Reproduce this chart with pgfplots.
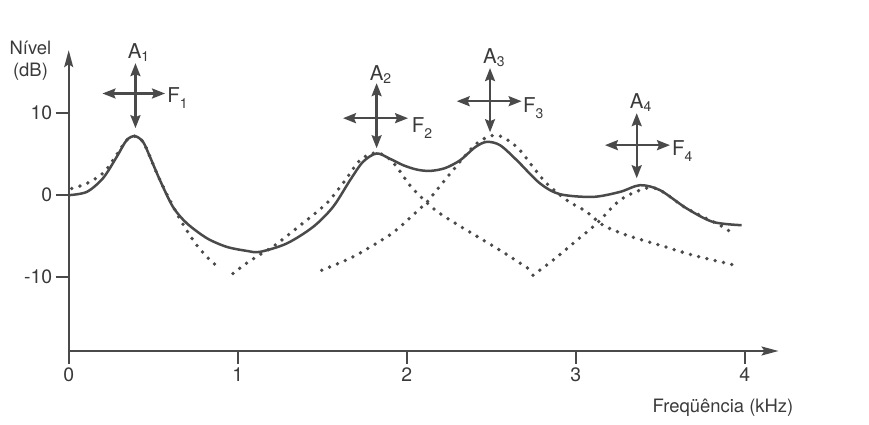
\documentclass[border=0pt]{standalone}
\usepackage{pgfplots}
\pgfplotsset{compat=1.18}
\usepackage{pgfplotstable}
\usepackage{fontspec}
\setmainfont{TeX Gyre Heros}
\usetikzlibrary{arrows.meta}
\definecolor{ink}{HTML}{4A4A4A}
\definecolor{txt}{HTML}{3A3A3A}

\pgfplotstableread{
f dB
0.000 0.00
0.107 0.40
0.203 2.07
0.284 4.67
0.343 6.71
0.392 7.20
0.440 6.50
0.481 4.67
0.540 1.83
0.617 -1.43
0.698 -3.41
0.817 -5.24
0.935 -6.30
1.053 -6.79
1.132 -6.91
1.290 -5.89
1.446 -3.87
1.564 -1.43
1.665 1.83
1.741 4.06
1.822 5.09
1.900 4.45
1.980 3.65
2.060 3.12
2.138 2.96
2.227 3.30
2.317 4.27
2.405 5.85
2.473 6.50
2.552 6.10
2.651 4.27
2.789 1.43
2.907 0.12
3.102 -0.21
3.262 0.40
3.381 1.22
3.499 0.61
3.657 -1.62
3.812 -3.26
3.982 -3.66
}\solid

\pgfplotstableread{
f dB
0.018 0.82
0.107 1.43
0.203 2.68
0.262 4.27
0.343 6.71
0.392 7.20
0.440 6.50
0.481 4.67
0.540 1.83
0.639 -2.20
0.736 -5.49
0.817 -7.52
0.883 -8.74
}\fone

\pgfplotstableread{
f dB
0.972 -9.55
1.053 -8.29
1.142 -7.11
1.221 -6.10
1.386 -3.41
1.527 -0.98
1.623 1.46
1.724 4.27
1.812 5.16
1.880 4.70
1.941 3.45
2.019 1.20
2.118 -0.90
2.197 -2.23
2.355 -4.27
2.552 -6.71
2.747 -9.30
}\ftwo

\pgfplotstableread{
f dB
1.497 -9.15
1.682 -7.52
1.882 -5.09
1.960 -3.87
2.079 -1.62
2.118 -0.90
2.274 3.05
2.414 6.30
2.533 7.32
2.651 5.89
2.747 3.45
2.828 1.43
2.947 -0.61
3.065 -2.04
3.162 -3.66
3.302 -4.88
3.499 -6.10
3.694 -7.32
3.943 -8.54
}\fthree

\pgfplotstableread{
f dB
2.747 -9.76
2.866 -7.93
2.984 -5.89
3.124 -3.45
3.262 -0.61
3.410 0.82
3.499 0.61
3.657 -1.62
3.854 -3.66
3.943 -4.88
}\ffour

\newcommand{\Asub}[1]{A\rlap{\raisebox{-3bp}{\fontsize{14}{14}\selectfont #1}}}
\newcommand{\Fsub}[1]{F\raisebox{-6bp}{\fontsize{14}{14}\selectfont #1}}

\begin{document}
\begin{tikzpicture}
\useasboundingbox (0,0) rectangle (869bp,425bp);
\begin{axis}[
  at={(68.7bp,74bp)}, anchor=south west,
  scale only axis, width=709.8bp, height=300.8bp,
  xmin=0, xmax=4.2, ymin=-19, ymax=17.68,
  axis lines=left,
  axis line style={ink, line width=1.9bp, -{Stealth[length=17bp,width=9bp,inset=3bp]}},
  xtick={0,1,2,3,4}, xticklabels={0,1,2,3,4},
  ytick={-10,0,10}, yticklabels={-10,0,10},
  tick align=outside, major tick length=13bp,
  tick style={ink, line width=1.9bp},
  tick label style={font=\fontsize{19.5}{19.5}\selectfont, text=txt},
  clip=false,
]
\addplot[ink, line width=2.5bp, smooth, tension=0.5] table[x=f,y=dB] {\solid};
\tikzset{dots/.style={ink, line width=3.8bp, line cap=round, dash pattern=on 0pt off 8.5bp, smooth, tension=0.5}}
\addplot[dots] table[x=f,y=dB] {\fone};
\addplot[dots] table[x=f,y=dB] {\ftwo};
\addplot[dots] table[x=f,y=dB] {\fthree};
\addplot[dots] table[x=f,y=dB] {\ffour};

\tikzset{dbl/.style={ink, line width=2.3bp, {Stealth[length=13bp,width=10bp,inset=2bp]}-{Stealth[length=13bp,width=10bp,inset=2bp]}}}
% formant 1
\draw[dbl] (axis cs:0.395,16.1) -- (axis cs:0.395,8.17);
\draw[dbl] (axis cs:0.200,12.4) -- (axis cs:0.570,12.4);
% formant 2
\draw[dbl] (axis cs:1.822,13.66) -- (axis cs:1.822,5.73);
\draw[dbl] (axis cs:1.623,9.39) -- (axis cs:2.008,9.39);
% formant 3
\draw[dbl] (axis cs:2.493,15.5) -- (axis cs:2.493,7.68);
\draw[dbl] (axis cs:2.296,11.46) -- (axis cs:2.680,11.46);
% formant 4
\draw[dbl] (axis cs:3.361,10.0) -- (axis cs:3.361,2.07);
\draw[dbl] (axis cs:3.173,6.10) -- (axis cs:3.558,6.10);

\tikzset{lab/.style={text=txt, font=\fontsize{20.5}{20.5}\selectfont, inner sep=0pt}}
\node[lab, anchor=base] at (axis cs:0.390,16.7) {\Asub{1}};
\node[lab, anchor=base] at (axis cs:1.822,14.0) {\Asub{2}};
\node[lab, anchor=base] at (axis cs:2.493,16.1) {\Asub{3}};
\node[lab, anchor=base] at (axis cs:3.361,10.6) {\Asub{4}};
\node[lab, anchor=base west] at (axis cs:0.583,11.34) {\Fsub{1}};
\node[lab, anchor=base west] at (axis cs:2.030,7.68) {\Fsub{2}};
\node[lab, anchor=base west] at (axis cs:2.688,10.12) {\Fsub{3}};
\node[lab, anchor=base west] at (axis cs:3.570,4.88) {\Fsub{4}};
\end{axis}
\node[text=txt, font=\fontsize{18.5}{22}\selectfont, align=center] at (30.5bp,364bp) {Nível\\(dB)};
\node[text=txt, font=\fontsize{18.5}{18.5}\selectfont] at (723bp,17bp) {Freqüência (kHz)};
\end{tikzpicture}
\end{document}
